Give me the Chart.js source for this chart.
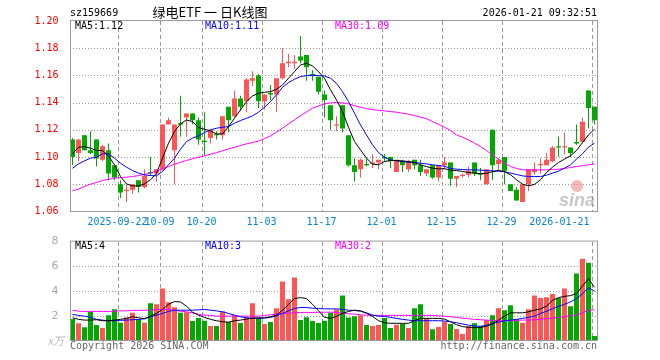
<!DOCTYPE html>
<html>
<head>
<meta charset="utf-8">
<title>绿电ETF 日K线图</title>
<script src="https://cdn.jsdelivr.net/npm/chart.js@4.4.1/dist/chart.umd.min.js"></script>
<style>
  html, body { margin: 0; padding: 0; background: #fff; }
  #wrap { position: relative; width: 660px; height: 360px; overflow: hidden; }
  #wrap canvas { position: absolute; left: 0; }
  #kline { top: 0; }
  #vol { top: 232px; }
</style>
</head>
<body>
<div id="wrap">
  <canvas id="kline" width="660" height="232"></canvas>
  <canvas id="vol" width="660" height="128"></canvas>
</div>
<script>
// 交易日
const dates = [
  '2025-09-10','2025-09-11','2025-09-12','2025-09-15','2025-09-16','2025-09-17','2025-09-18','2025-09-19',
  '2025-09-22','2025-09-23','2025-09-24','2025-09-25','2025-09-26','2025-09-29','2025-09-30',
  '2025-10-09','2025-10-10','2025-10-13','2025-10-14','2025-10-15','2025-10-16','2025-10-17',
  '2025-10-20','2025-10-21','2025-10-22','2025-10-23','2025-10-24','2025-10-27','2025-10-28','2025-10-29','2025-10-30','2025-10-31',
  '2025-11-03','2025-11-04','2025-11-05','2025-11-06','2025-11-07','2025-11-10','2025-11-11','2025-11-12','2025-11-13','2025-11-14',
  '2025-11-17','2025-11-18','2025-11-19','2025-11-20','2025-11-21','2025-11-24','2025-11-25','2025-11-26','2025-11-27','2025-11-28',
  '2025-12-01','2025-12-02','2025-12-03','2025-12-04','2025-12-05','2025-12-08','2025-12-09','2025-12-10','2025-12-11','2025-12-12',
  '2025-12-15','2025-12-16','2025-12-17','2025-12-18','2025-12-19','2025-12-22','2025-12-23','2025-12-24','2025-12-25','2025-12-26',
  '2025-12-29','2025-12-30','2025-12-31',
  '2026-01-05','2026-01-06','2026-01-07','2026-01-08','2026-01-09','2026-01-12','2026-01-13','2026-01-14','2026-01-15','2026-01-16',
  '2026-01-19','2026-01-20','2026-01-21'
];

// 横轴刻度
const tickDates = ['2025-09-22','2025-10-09','2025-10-20','2025-11-03','2025-11-17','2025-12-01','2025-12-15','2025-12-29','2026-01-21'];
const tickLabels = ['2025-09-22','10-09','10-20','11-03','11-17','12-01','12-15','12-29','2026-01-21'];
const priceTicks = [1.06, 1.08, 1.10, 1.12, 1.14, 1.16, 1.18, 1.20];
const volTicks = [0, 2, 4, 6, 8];

// K线 开高低收
const openP = [
  1.113,1.103,1.116,1.105,1.113,1.098,1.105,1.094,1.080,1.075,
  1.076,1.083,1.078,1.089,1.088,1.091,1.124,1.105,1.125,1.129,
  1.132,1.127,1.112,1.114,1.117,1.116,1.137,1.130,1.143,1.141,
  1.156,1.160,1.141,1.147,1.146,1.158,1.169,1.169,1.174,1.175,
  1.161,1.159,1.146,1.138,1.123,1.138,1.116,1.094,1.091,1.095,
  1.095,1.096,1.100,1.100,1.089,1.097,1.091,1.098,1.094,1.088,
  1.094,1.085,1.094,1.096,1.084,1.086,1.087,1.096,1.088,1.080,
  1.120,1.095,1.100,1.080,1.076,1.067,1.080,1.089,1.094,1.094,
  1.097,1.108,1.107,1.107,1.111,1.111,1.149,1.137
];
const highP = [
  1.114,1.113,1.116,1.119,1.113,1.109,1.110,1.094,1.083,1.080,
  1.080,1.083,1.091,1.100,1.091,1.124,1.129,1.124,1.145,1.132,
  1.132,1.129,1.133,1.120,1.119,1.130,1.137,1.149,1.145,1.158,
  1.163,1.161,1.146,1.153,1.158,1.180,1.176,1.175,1.189,1.175,
  1.164,1.159,1.149,1.138,1.130,1.138,1.116,1.099,1.099,1.099,
  1.102,1.098,1.102,1.100,1.098,1.098,1.098,1.098,1.098,1.091,
  1.094,1.094,1.100,1.096,1.086,1.088,1.093,1.096,1.092,1.091,
  1.120,1.099,1.100,1.080,1.078,1.080,1.091,1.096,1.099,1.103,
  1.108,1.115,1.118,1.107,1.124,1.129,1.149,1.137
];
const lowP = [
  1.094,1.097,1.105,1.102,1.093,1.097,1.083,1.083,1.070,1.067,
  1.073,1.074,1.077,1.086,1.082,1.090,1.124,1.080,1.115,1.115,
  1.124,1.109,1.101,1.110,1.113,1.113,1.118,1.129,1.134,1.133,
  1.152,1.136,1.135,1.142,1.133,1.157,1.166,1.165,1.169,1.156,
  1.156,1.146,1.129,1.120,1.119,1.118,1.093,1.082,1.085,1.093,
  1.092,1.091,1.097,1.092,1.089,1.089,1.089,1.091,1.086,1.086,
  1.084,1.082,1.091,1.079,1.078,1.085,1.085,1.086,1.083,1.080,
  1.083,1.090,1.080,1.075,1.068,1.067,1.075,1.087,1.088,1.094,
  1.096,1.100,1.102,1.100,1.109,1.110,1.121,1.124
];
const closeP = [
  1.100,1.113,1.105,1.103,1.099,1.108,1.088,1.085,1.074,1.076,
  1.080,1.078,1.086,1.088,1.091,1.124,1.127,1.124,1.124,1.132,
  1.127,1.113,1.111,1.120,1.116,1.130,1.127,1.143,1.137,1.157,
  1.158,1.141,1.146,1.146,1.158,1.169,1.170,1.170,1.171,1.166,
  1.160,1.148,1.142,1.127,1.124,1.121,1.094,1.089,1.098,1.094,
  1.096,1.098,1.099,1.097,1.098,1.094,1.097,1.094,1.089,1.091,
  1.085,1.094,1.096,1.084,1.086,1.087,1.090,1.088,1.087,1.091,
  1.094,1.098,1.090,1.075,1.068,1.080,1.091,1.091,1.095,1.098,
  1.107,1.107,1.108,1.103,1.110,1.126,1.136,1.127
];

// 均线
const ma5 = [
  1.1024,1.1072,1.1077,1.1065,1.1048,1.1048,1.1009,1.0943,1.0857,1.0803,
  1.0788,1.0788,1.0803,1.0833,1.0882,1.0992,1.1102,1.1188,1.1244,1.1273,
  1.1261,1.1217,1.1205,1.1192,1.1170,1.1170,1.1224,1.1285,1.1347,1.1408,
  1.1449,1.1470,1.1476,1.1481,1.1498,1.1530,1.1579,1.1628,1.1677,1.1689,
  1.1670,1.1628,1.1579,1.1494,1.1420,1.1334,1.1219,1.1114,1.1053,1.0992,
  1.0948,1.0943,1.0967,1.0975,1.0975,1.0972,1.0967,1.0960,1.0943,1.0930,
  1.0918,1.0913,1.0915,1.0904,1.0901,1.0894,1.0887,1.0882,1.0877,1.0882,
  1.0892,1.0901,1.0894,1.0870,1.0833,1.0801,1.0789,1.0799,1.0833,1.0887,
  1.0926,1.0960,1.0985,1.1009,1.1048,1.1107,1.1163,1.1205
];
const ma10 = [
  1.0918,1.0950,1.0972,1.0992,1.0999,1.1024,1.1024,1.0992,1.0955,1.0926,
  1.0901,1.0882,1.0869,1.0864,1.0862,1.0894,1.0943,1.0992,1.1058,1.1114,
  1.1139,1.1156,1.1180,1.1200,1.1212,1.1219,1.1224,1.1249,1.1268,1.1285,
  1.1303,1.1330,1.1366,1.1408,1.1457,1.1513,1.1547,1.1572,1.1591,1.1599,
  1.1601,1.1599,1.1596,1.1579,1.1542,1.1481,1.1408,1.1322,1.1236,1.1163,
  1.1090,1.1033,1.0999,1.0979,1.0972,1.0967,1.0962,1.0960,1.0955,1.0950,
  1.0943,1.0938,1.0933,1.0916,1.0911,1.0909,1.0906,1.0906,1.0904,1.0901,
  1.0899,1.0896,1.0892,1.0882,1.0872,1.0862,1.0857,1.0857,1.0857,1.0867,
  1.0882,1.0896,1.0919,1.0943,1.0985,1.1024,1.1073,1.1102
];
const ma30 = [
  1.0752,1.0764,1.0784,1.0801,1.0813,1.0828,1.0837,1.0845,1.0850,1.0852,
  1.0857,1.0864,1.0872,1.0882,1.0899,1.0913,1.0930,1.0948,1.0962,1.0975,
  1.0987,1.0999,1.1009,1.1021,1.1033,1.1046,1.1060,1.1072,1.1085,1.1097,
  1.1107,1.1117,1.1136,1.1156,1.1183,1.1212,1.1244,1.1273,1.1303,1.1332,
  1.1359,1.1376,1.1391,1.1398,1.1401,1.1398,1.1391,1.1378,1.1366,1.1356,
  1.1349,1.1344,1.1339,1.1334,1.1330,1.1322,1.1315,1.1305,1.1293,1.1283,
  1.1261,1.1241,1.1219,1.1195,1.1163,1.1146,1.1126,1.1102,1.1078,1.1048,
  1.1016,1.0985,1.0955,1.0931,1.0916,1.0906,1.0906,1.0906,1.0906,1.0906,
  1.0909,1.0911,1.0916,1.0923,1.0931,1.0936,1.0943,1.0950
];

// 成交量 (万手) 及均量
const volume = [
  1.73,1.39,1.07,2.32,1.25,1.01,2.05,2.53,1.44,1.87,
  2.24,1.71,1.44,3.01,2.93,4.21,3.09,2.69,2.24,2.29,
  1.57,1.81,1.60,1.17,1.17,2.37,1.52,2.05,1.41,1.87,
  3.01,1.79,1.33,1.49,2.61,4.77,3.33,5.09,1.65,1.89,
  1.57,1.41,1.60,2.24,2.51,3.65,1.87,1.97,2.05,1.25,
  1.17,1.25,1.81,1.01,1.28,1.33,1.01,2.61,2.93,1.76,
  0.91,1.09,1.52,1.33,0.93,0.53,1.17,1.39,1.17,1.65,
  2.05,2.61,2.45,2.85,1.71,1.44,2.53,3.65,3.44,3.49,
  3.76,3.44,4.21,2.77,5.41,6.61,6.29,0.37
];
const volMa5 = [
  1.84,1.71,1.65,1.65,1.68,1.60,1.60,1.65,1.71,1.79,
  1.92,1.84,1.76,1.97,2.19,2.51,2.93,3.15,3.12,2.77,
  2.29,2.05,1.87,1.71,1.60,1.52,1.47,1.60,1.65,1.73,
  1.81,1.84,1.84,1.92,2.05,2.45,2.93,3.39,3.47,3.39,
  2.93,2.40,1.87,1.80,1.95,2.20,2.35,2.45,2.40,2.20,
  1.95,1.60,1.44,1.39,1.39,1.39,1.39,1.60,1.79,1.79,
  1.79,1.79,1.73,1.52,1.28,1.12,1.07,1.04,1.04,1.17,
  1.33,1.65,1.97,2.24,2.24,2.24,2.32,2.45,2.56,2.77,
  3.25,3.47,3.57,3.63,3.79,4.40,5.00,4.30
];
const volMa10 = [
  2.11,2.03,1.97,1.87,1.71,1.65,1.60,1.60,1.63,1.65,
  1.68,1.71,1.76,1.92,2.05,2.19,2.35,2.45,2.45,2.45,
  2.45,2.48,2.51,2.45,2.40,2.32,2.19,2.05,1.92,1.84,
  1.79,1.79,1.81,1.87,2.00,2.19,2.40,2.59,2.67,2.67,
  2.61,2.59,2.56,2.56,2.56,2.51,2.45,2.43,2.37,2.24,
  2.05,1.97,1.95,1.87,1.79,1.71,1.65,1.60,1.60,1.60,
  1.60,1.60,1.57,1.52,1.44,1.33,1.25,1.17,1.15,1.23,
  1.39,1.49,1.60,1.65,1.71,1.79,1.87,1.97,2.19,2.37,
  2.56,2.77,2.93,3.12,3.39,3.79,4.27,4.00
];
const volMa30 = [
  2.45,2.37,2.35,2.35,2.35,2.35,2.35,2.37,2.40,2.40,
  2.43,2.43,2.45,2.45,2.51,2.51,2.51,2.45,2.37,2.32,
  2.24,2.13,2.05,2.03,1.97,1.97,1.97,1.97,1.97,1.97,
  1.97,1.97,2.03,2.08,2.13,2.19,2.21,2.24,2.27,2.27,
  2.27,2.29,2.29,2.29,2.27,2.21,2.16,2.13,2.08,2.05,
  2.05,2.03,2.03,2.03,2.03,2.03,2.03,2.03,2.03,2.03,
  2.03,2.00,1.97,1.92,1.87,1.81,1.76,1.71,1.68,1.65,
  1.63,1.60,1.60,1.60,1.63,1.65,1.65,1.68,1.71,1.76,
  1.81,1.87,1.92,2.00,2.08,2.24,2.45,2.48
];

const RED = '#ff5555';
const GREEN = '#00a800';
const GRID = '#999999';
const MONO = "10px 'DejaVu Sans Mono'";

const candleColors = dates.map((d, i) => closeP[i] >= openP[i] ? RED : GREEN);
const gridIdx = tickDates.map(d => dates.indexOf(d));

function maLine(label, data, color) {
  return {
    type: 'line',
    label: label,
    data: data,
    borderColor: color,
    borderWidth: 1,
    pointRadius: 0,
    tension: 0,
    order: 0
  };
}

// 网格: 横向点线, 日期处竖向虚线 (逐点画)
function drawGrid(chart, values) {
  const ctx = chart.ctx;
  const a = chart.chartArea;
  const xScale = chart.scales.x;
  const yScale = chart.scales.y;
  if (!a || !xScale || !yScale) return;
  const half = (xScale.getPixelForValue(1) - xScale.getPixelForValue(0)) / 2;
  const left = Math.round(a.left) + 1;
  const right = Math.round(a.right);
  const top = Math.round(a.top);
  const bottom = Math.round(a.bottom);

  ctx.save();
  ctx.globalAlpha = 1;
  ctx.fillStyle = GRID;
  values.slice(1, -1).forEach((v) => {
    const py = Math.round(yScale.getPixelForValue(v));
    for (let x = left + 2; x < right; x += 3) {
      ctx.fillRect(x, py, 1, 1);
    }
  });
  gridIdx.forEach((i) => {
    const px = Math.round(xScale.getPixelForValue(i) - half);
    for (let y = top; y < bottom; y += 7) {
      ctx.fillRect(px, y, 1, Math.min(4, bottom - y));
    }
  });
  ctx.restore();
}

function frame(ctx, a) {
  ctx.save();
  ctx.strokeStyle = '#999';
  ctx.lineWidth = 1;
  ctx.strokeRect(a.left + 1, a.top - 0.5, a.right - a.left - 1, a.bottom - a.top + 0.5);
  ctx.restore();
}

// 主图装饰: 边框, 标题, 均线标签, 日期
const kDecor = {
  id: 'kDecor',
  beforeDraw: (chart) => { drawGrid(chart, priceTicks); },
  afterDraw: (chart) => {
    const ctx = chart.ctx;
    const a = chart.chartArea;
    const xScale = chart.scales.x;
    const half = (xScale.getPixelForValue(1) - xScale.getPixelForValue(0)) / 2;

    frame(ctx, a);

    ctx.save();
    ctx.textBaseline = 'middle';
    ctx.font = MONO;
    ctx.fillStyle = '#000';
    ctx.textAlign = 'left';
    ctx.fillText('sz159669', 70, 13);
    ctx.textAlign = 'right';
    ctx.fillText('2026-01-21 09:32:51', 597, 13);

    ctx.font = "13px 'Noto Sans CJK SC'";
    ctx.textAlign = 'center';
    ctx.fillText('绿电ETF 一 日K线图', 210, 12);

    // 均线数值
    ctx.font = MONO;
    ctx.textAlign = 'left';
    ctx.fillStyle = '#000';
    ctx.fillText('MA5:1.12', 75, 26);
    ctx.fillStyle = '#0000ff';
    ctx.fillText('MA10:1.11', 205, 26);
    ctx.fillStyle = '#ff00ff';
    ctx.fillText('MA30:1.09', 335, 26);

    // 日期标签
    ctx.fillStyle = '#0a84c8';
    tickDates.forEach((d, k) => {
      const gx = xScale.getPixelForValue(dates.indexOf(d)) - half;
      if (k === tickDates.length - 1) {
        ctx.textAlign = 'right';
        ctx.fillText(tickLabels[k], gx - 2, 222);
      } else {
        ctx.textAlign = 'center';
        ctx.fillText(tickLabels[k], gx, 222);
      }
    });

    // 水印
    ctx.globalAlpha = 0.55;
    ctx.fillStyle = '#f08080';
    ctx.beginPath();
    ctx.arc(577, 186, 6, 0, Math.PI * 2);
    ctx.fill();
    ctx.fillStyle = '#999';
    ctx.font = "italic bold 18px 'Liberation Sans'";
    ctx.textAlign = 'center';
    ctx.fillText('sina', 577, 201);
    ctx.restore();
  }
};

// 副图装饰
const vDecor = {
  id: 'vDecor',
  beforeDraw: (chart) => { drawGrid(chart, volTicks); },
  afterDraw: (chart) => {
    const ctx = chart.ctx;
    const a = chart.chartArea;
    frame(ctx, a);

    ctx.save();
    ctx.textBaseline = 'middle';
    ctx.font = MONO;
    ctx.textAlign = 'left';
    ctx.fillStyle = '#000';
    ctx.fillText('MA5:4', 75, 14);
    ctx.fillStyle = '#0000ff';
    ctx.fillText('MA10:3', 205, 14);
    ctx.fillStyle = '#ff00ff';
    ctx.fillText('MA30:2', 335, 14);

    ctx.fillStyle = '#bbb';
    ctx.font = "italic 11px 'Noto Sans CJK SC'";
    ctx.textAlign = 'right';
    ctx.fillText('x万', 64, 109);

    ctx.font = MONO;
    ctx.fillStyle = '#666';
    ctx.textAlign = 'left';
    ctx.fillText('Copyright 2026 SINA.COM', 70, 114.5);
    ctx.textAlign = 'right';
    ctx.fillText('http://finance.sina.com.cn', 597, 114.5);
    ctx.restore();
  }
};

Chart.defaults.animation = false;
Chart.defaults.plugins.legend.display = false;
Chart.defaults.plugins.tooltip.enabled = false;

new Chart(document.getElementById('kline'), {
  type: 'bar',
  data: {
    labels: dates,
    datasets: [
      maLine('MA5', ma5, '#000000'),
      maLine('MA10', ma10, '#0000ff'),
      maLine('MA30', ma30, '#ff00ff'),
      {
        label: 'wick',
        data: dates.map((d, i) => [lowP[i], highP[i]]),
        backgroundColor: candleColors,
        grouped: false,
        barThickness: 1,
        maxBarThickness: 1,
        categoryPercentage: 1,
        barPercentage: 1,
        inflateAmount: 0,
        order: 2
      },
      {
        label: 'body',
        data: dates.map((d, i) => [openP[i], closeP[i]]),
        backgroundColor: candleColors,
        grouped: false,
        barThickness: 5,
        maxBarThickness: 5,
        categoryPercentage: 1,
        barPercentage: 1,
        minBarLength: 1,
        inflateAmount: 0,
        order: 1
      }
    ]
  },
  options: {
    responsive: false,
    layout: { padding: { top: 21, right: 62.5, left: 0, bottom: 0 } },
    scales: {
      x: {
        grid: { display: false },
        border: { display: false },
        ticks: { display: false, autoSkip: false },
        afterFit: (s) => { s.height = 20.5; }
      },
      y: {
        min: 1.06,
        max: 1.20,
        afterBuildTicks: (s) => { s.ticks = priceTicks.map(v => ({ value: v })); },
        grid: { display: false },
        border: { display: false },
        ticks: {
          padding: 3,
          color: '#ff0000',
          font: { family: 'DejaVu Sans Mono', size: 10 },
          callback: (v) => Number(v).toFixed(2)
        },
        afterFit: (s) => { s.width = 69.5; }
      }
    }
  },
  plugins: [kDecor]
});

new Chart(document.getElementById('vol'), {
  type: 'bar',
  data: {
    labels: dates,
    datasets: [
      maLine('MA5', volMa5, '#000000'),
      maLine('MA10', volMa10, '#0000ff'),
      maLine('MA30', volMa30, '#ff00ff'),
      {
        label: 'volume',
        data: volume,
        backgroundColor: candleColors,
        barThickness: 5,
        inflateAmount: 0,
        order: 1
      }
    ]
  },
  options: {
    responsive: false,
    layout: { padding: { top: 8.5, right: 62.5, left: 0, bottom: 0 } },
    scales: {
      x: {
        grid: { display: false },
        border: { display: false },
        ticks: { display: false, autoSkip: false },
        afterFit: (s) => { s.height = 19.5; }
      },
      y: {
        min: 0,
        max: 8,
        afterBuildTicks: (s) => { s.ticks = volTicks.map(v => ({ value: v })); },
        grid: { display: false },
        border: { display: false },
        ticks: {
          padding: 3,
          color: '#aaaaaa',
          font: { family: 'DejaVu Sans', size: 11 },
          callback: (v) => v === 0 ? '' : String(v)
        },
        afterFit: (s) => { s.width = 69.5; }
      }
    }
  },
  plugins: [vDecor]
});
</script>
</body>
</html>
